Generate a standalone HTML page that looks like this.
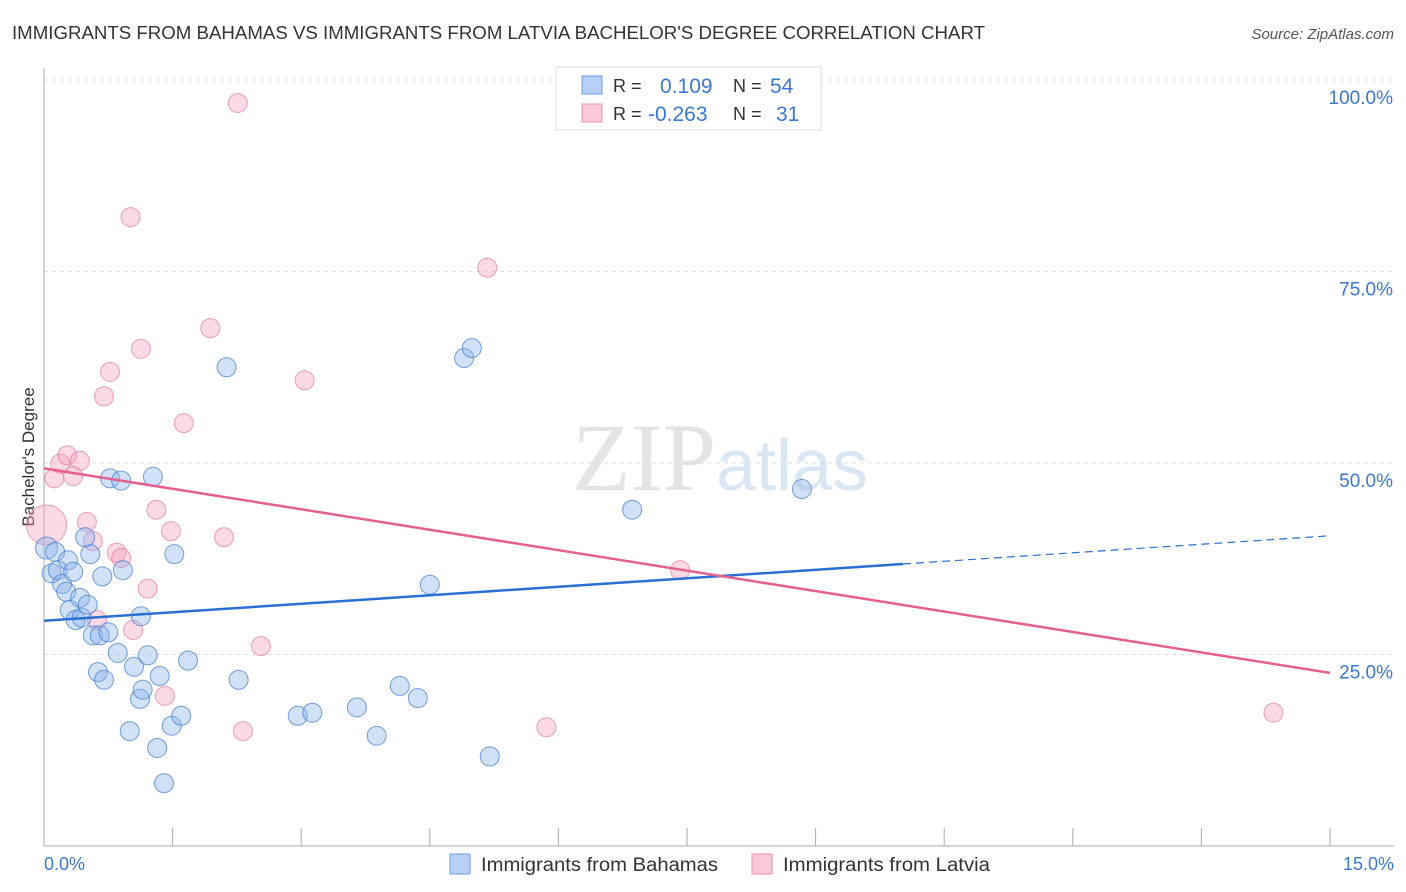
<!DOCTYPE html>
<html><head><meta charset="utf-8"><style>
body{margin:0;background:#fff;font-family:"Liberation Sans",sans-serif;}
svg{display:block}
</style></head><body>
<svg width="1406" height="892" id="c">
<text x="12" y="39" font-size="18" fill="#333" textLength="973" lengthAdjust="spacingAndGlyphs">IMMIGRANTS FROM BAHAMAS VS IMMIGRANTS FROM LATVIA BACHELOR'S DEGREE CORRELATION CHART</text>
<text x="1394" y="39" font-size="15" fill="#555" font-style="italic" text-anchor="end">Source: ZipAtlas.com</text>
<text x="716" y="490" font-size="96" fill="#e4e4e4" text-anchor="end" font-family="Liberation Serif,serif">ZIP</text>
<text x="716" y="490" font-size="72" fill="#dbe6f5">atlas</text>
<g id="grid"></g>
<line x1="44" y1="68" x2="44" y2="846" stroke="#aaa"/>
<line x1="44" y1="846" x2="1394" y2="846" stroke="#aaa"/>
<text transform="translate(34,457) rotate(-90)" font-size="17" fill="#333" text-anchor="middle">Bachelor's Degree</text>
<text x="44" y="870" font-size="18" fill="#3a78d4">0.0%</text>
<text x="1394" y="870" font-size="18" fill="#3a78d4" text-anchor="end">15.0%</text>
<g id="pts"></g><g id="lines"></g>
<g>
<rect x="556" y="67" width="265" height="63" fill="#fff" stroke="#ddd"/>
<rect x="582" y="76" width="20" height="18" fill="#b7d0f3" stroke="#6a9be0"/>
<rect x="582" y="104" width="20" height="18" fill="#f9c9d8" stroke="#ec8fae"/>
<text x="613" y="92" font-size="18" fill="#333">R =</text><text x="660" y="93" font-size="21" fill="#3a78d4">0.109</text>
<text x="733" y="92" font-size="18" fill="#333">N =</text><text x="770" y="93" font-size="21" fill="#3a78d4">54</text>
<text x="613" y="120" font-size="18" fill="#333">R =</text><text x="648" y="121" font-size="21" fill="#3a78d4">-0.263</text>
<text x="733" y="120" font-size="18" fill="#333">N =</text><text x="776" y="121" font-size="21" fill="#3a78d4">31</text>
</g>
<g>
<rect x="450" y="854" width="20" height="20" fill="#b7d0f3" stroke="#6a9be0"/>
<text x="481" y="871" font-size="19" fill="#333" textLength="237" lengthAdjust="spacingAndGlyphs">Immigrants from Bahamas</text>
<rect x="752" y="854" width="20" height="20" fill="#f9c9d8" stroke="#ec8fae"/>
<text x="783" y="871" font-size="19" fill="#333" textLength="207" lengthAdjust="spacingAndGlyphs">Immigrants from Latvia</text>
</g>
</svg>
<script>
const yTicks=[25,50,75,100];
const yTickLabels=["25.0%","50.0%","75.0%","100.0%"];
const bahamasX=[0.03,0.09,0.13,0.16,0.21,0.26,0.28,0.30,0.34,0.37,0.42,0.44,0.51,0.54,0.48,0.57,0.63,0.65,0.68,0.70,0.75,0.77,0.86,0.90,0.92,1.00,1.05,1.12,1.13,1.15,1.21,1.27,1.32,1.35,1.40,1.49,1.52,1.60,1.68,2.13,2.27,2.96,3.13,3.65,3.88,4.15,4.36,4.50,4.90,4.99,5.20,6.86,8.84];
const bahamasY=[38.9,35.6,38.4,36.0,34.2,33.2,37.3,30.8,35.8,29.5,32.4,29.8,31.5,38.1,40.3,27.5,22.7,27.5,35.2,21.7,27.9,48.0,25.2,47.7,36.0,15.0,23.4,19.2,30.0,20.4,24.9,48.2,12.8,22.2,8.2,15.7,38.1,17.0,24.2,62.5,21.7,17.0,17.4,18.1,14.4,20.9,19.3,34.1,63.7,65.0,11.7,43.9,46.6];
const latviaX=[0.03,0.12,0.19,0.27,0.34,0.42,0.50,0.57,0.62,0.70,0.77,0.85,0.90,1.01,1.04,1.13,1.21,1.31,1.41,1.48,1.63,1.94,2.10,2.26,2.32,2.53,3.04,5.17,5.86,7.42,14.34];
const latviaY=[41.9,48.0,49.9,51.0,48.3,50.3,42.3,39.8,29.5,58.7,61.9,38.3,37.6,82.1,28.2,64.9,33.6,43.9,19.6,41.1,55.2,67.6,40.3,97.0,15.0,26.1,60.8,75.5,15.5,36.0,17.4];
const bahamasTrend=[29.4,0.74];
const latviaTrend=[49.3,-1.78];
const X=v=>44+v/15*1286, Y=v=>846-v/100*766;
const NS="http://www.w3.org/2000/svg";
function mk(t,a,p){const e=document.createElementNS(NS,t);for(const k in a)e.setAttribute(k,a[k]);p.appendChild(e);return e;}
const grid=document.getElementById('grid');
yTicks.forEach((t,i)=>{
 const l=mk('line',{x1:44,x2:1394,y1:Y(t),y2:Y(t),stroke:'#ddd','stroke-dasharray':'4,4'},grid);
 
 
 const tx=mk('text',{x:1393,y:Y(t)+24,'font-size':19,fill:'#3a78d4','text-anchor':'end'},grid);
 tx.textContent=yTickLabels[i];
 
 
});
for(let i=1;i<=10;i++){const x=44+i*128.6;
 const l=mk('line',{x1:x,x2:x,y1:828,y2:846,stroke:'#aaa'},grid);
 
 }
const pts=document.getElementById('pts');
latviaX.forEach((x,i)=>{const c=mk('circle',{cx:X(x),cy:Y(latviaY[i]),r:i==0?20:9.5,fill:'rgba(245,160,190,0.4)',stroke:'rgba(232,120,160,0.7)'},pts);
 
 });
bahamasX.forEach((x,i)=>{const c=mk('circle',{cx:X(x),cy:Y(bahamasY[i]),r:i==0?11:9.5,fill:'rgba(140,180,235,0.4)',stroke:'rgba(60,120,210,0.7)'},pts);
 
 });
const lg=document.getElementById('lines');
const bt=v=>bahamasTrend[0]+bahamasTrend[1]*v, lt=v=>latviaTrend[0]+latviaTrend[1]*v;
let l=mk('line',{x1:X(0),y1:Y(bt(0)),x2:X(10.02),y2:Y(bt(10.02)),stroke:'#2a6fd4','stroke-width':2.5},lg);


l=mk('line',{x1:X(10.02),y1:Y(bt(10.02)),x2:X(15),y2:Y(bt(15)),stroke:'#2a6fd4','stroke-width':1.2,'stroke-dasharray':'8,5'},lg);


l=mk('line',{x1:X(0),y1:Y(lt(0)),x2:X(15),y2:Y(lt(15)),stroke:'#e4608f','stroke-width':2.5},lg);


</script>
</body></html>
